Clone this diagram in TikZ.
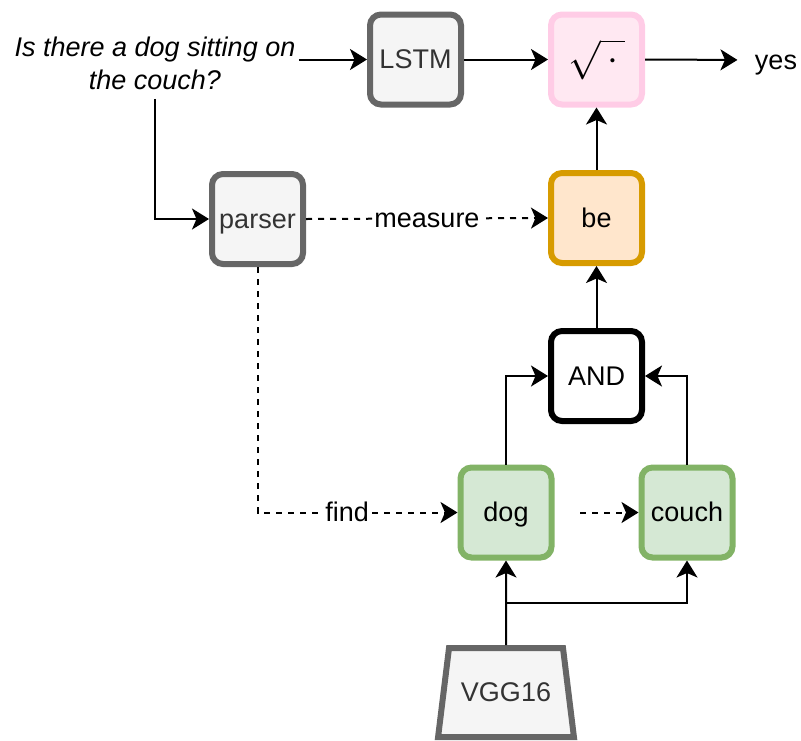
\documentclass[tikz,border=0pt]{standalone}
\usepackage{amsmath}
\usepackage{fontspec}
\setmainfont{Liberation Sans}
\usetikzlibrary{arrows.meta,shapes.geometric}

\definecolor{grayline}{HTML}{666666}
\definecolor{grayfill}{HTML}{F5F5F5}
\definecolor{graytext}{HTML}{333333}
\definecolor{pinkline}{HTML}{FFCCE6}
\definecolor{pinkfill}{HTML}{FFE8F2}
\definecolor{orangeline}{HTML}{D79B00}
\definecolor{orangefill}{HTML}{FFE6CC}
\definecolor{greenline}{HTML}{82B366}
\definecolor{greenfill}{HTML}{D5E8D4}

\tikzset{
  tipshape/.tip={Stealth[length=17pt 0 0,width=21pt 0 0,inset=4.5pt 0 0]}
}

\begin{document}
\begin{tikzpicture}[x=1pt,y=-1pt,
  every node/.style={font=\fontsize{27}{33}\selectfont},
  caption/.style={text height=24.4pt, text depth=5.7pt},
  module/.style={rectangle, rounded corners=11pt, line width=6pt,
    minimum width=91pt, minimum height=90pt, inner sep=0pt},
  graybox/.style={module, caption, draw=grayline, fill=grayfill, text=graytext},
  pinkbox/.style={module, draw=pinkline, fill=pinkfill},
  orangebox/.style={module, caption, draw=orangeline, fill=orangefill},
  greenbox/.style={module, caption, draw=greenline, fill=greenfill},
  plainbox/.style={module, caption, draw=black, fill=white},
  link/.style={line width=2pt, -tipshape},
  hint/.style={link, dash pattern=on 6pt off 6pt},
  tag/.style={caption, fill=white, inner sep=1pt}
]
\useasboundingbox (0,0) rectangle (801,740);

% question and language side
\node[align=center, font=\fontsize{27}{33}\selectfont\itshape] (q) at (155,63)
  {Is there a dog sitting on\\the couch?};
\node[graybox] (lstm) at (415.5,59.5) {LSTM};
\node[pinkbox] (sqrt) at (596.5,59.5)
  {\fontsize{10}{12}\selectfont\scalebox{3.9}{$\sqrt{\,\cdot\,}$}};
\node[caption] (yes) at (776,60) {yes};
\node[graybox] (parser) at (257.5,219) {parser};

% module network
\node[orangebox] (be) at (596.5,218) {be};
\node[plainbox] (and) at (596.5,376) {AND};
\node[greenbox] (dog) at (506,512.5) {dog};
\node[greenbox] (couch) at (687,512.5) {couch};
\node[trapezium, trapezium angle=74, trapezium stretches, caption,
  minimum width=136pt, minimum height=89pt, inner sep=0pt, line width=6pt,
  draw=grayline, fill=grayfill, text=graytext] (vgg) at (506,692.5) {VGG16};

\coordinate (hop) at (580,512.5);
\coordinate (split) at (506,603);

% connectors
\draw[link] (q.east |- lstm.west) -- (lstm.west);
\draw[link] ([yshift=-6pt]q.south) |- (parser.west);
\draw[link] (lstm.east) -- (sqrt.west);
\draw[link, shorten >=14pt] (sqrt.east) -- (yes.west);
\draw[link] (be.north) -- (sqrt.south);
\draw[hint] (parser.east) -- node[tag] {measure} (be.west);
\draw[hint] (parser.south) |- node[tag, pos=0.724] {find} (dog.west);
\draw[link] (and.north) -- (be.south);
\draw[link] (dog.north) |- (and.west);
\draw[link] (couch.north) |- (and.east);
\draw[hint] (hop) -- (couch.west);
\draw[link] (vgg.north) -- (dog.south);
\draw[link] (split) -| (couch.south);
\end{tikzpicture}
\end{document}
